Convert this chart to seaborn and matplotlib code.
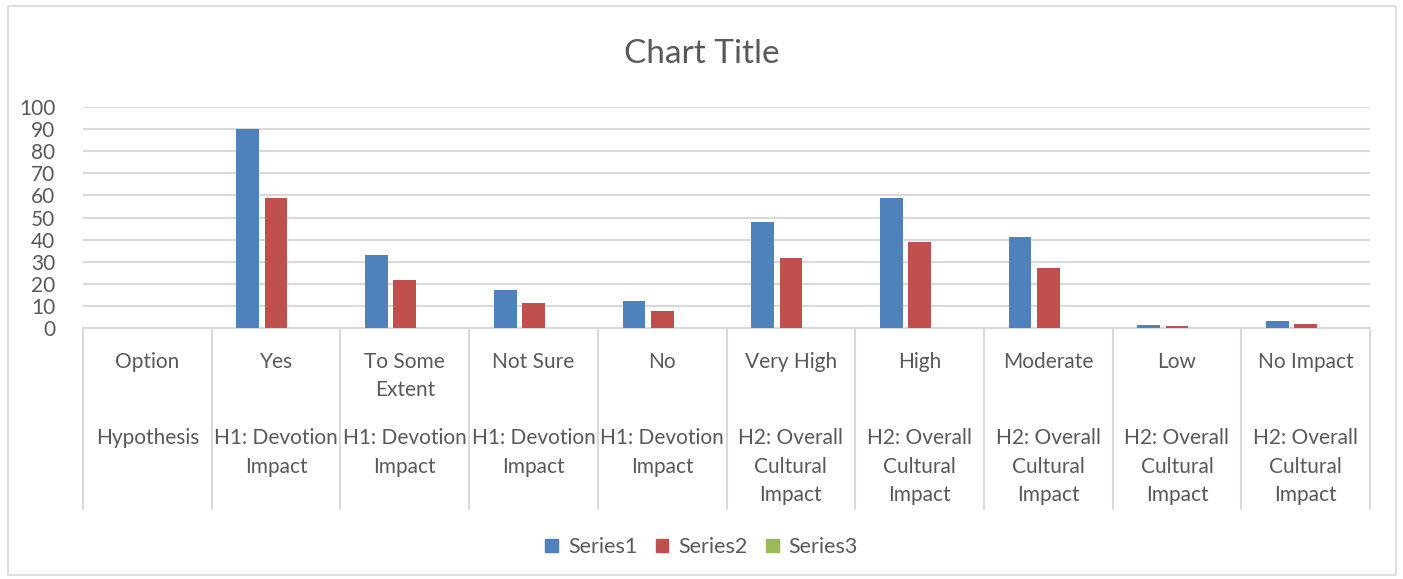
import matplotlib
matplotlib.use("Agg")
import matplotlib.pyplot as plt
import matplotlib.transforms as mtransforms
from matplotlib.patches import Rectangle, Patch
import seaborn as sns
import pandas as pd

options = ["Option", "Yes", "To Some\nExtent", "Not Sure", "No", "Very High", "High",
           "Moderate", "Low", "No Impact"]
hypotheses = ["Hypothesis", "H1: Devotion\nImpact", "H1: Devotion\nImpact", "H1: Devotion\nImpact",
              "H1: Devotion\nImpact", "H2: Overall\nCultural\nImpact", "H2: Overall\nCultural\nImpact",
              "H2: Overall\nCultural\nImpact", "H2: Overall\nCultural\nImpact", "H2: Overall\nCultural\nImpact"]
series1 = [0, 90, 33, 17, 12, 48, 59, 41, 1.2, 3]
series2 = [0, 59, 21.6, 11.3, 7.9, 31.5, 38.8, 27, 0.8, 2]
series3 = [0, 0, 0, 0, 0, 0, 0, 0, 0, 0]
series_names = ["Series1", "Series2", "Series3"]
colors = ["#4F81BD", "#C0504D", "#9BBB59"]

rows = []
for name, vals in zip(series_names, [series1, series2, series3]):
    for i, v in enumerate(vals):
        rows.append({"cat": i, "series": name, "value": v})
df = pd.DataFrame(rows)

sns.set_theme(style="white")
plt.rcParams['font.family'] = ['Lato', 'DejaVu Sans']
text_color = "#595959"
grid_color = "#D9D9D9"

fig = plt.figure(figsize=(14.03, 5.79), dpi=100)
fig.patch.set_facecolor("white")
fig.add_artist(Rectangle((0.006, 0.007), 0.989, 0.982, transform=fig.transFigure,
                         fill=False, edgecolor=grid_color, linewidth=1.2))
ax = fig.add_axes([0.0592, 0.4335, 0.9173, 0.3817])

sns.barplot(data=df, x="cat", y="value", hue="series", palette=colors, ax=ax,
            width=0.66, gap=0.2, legend=False, order=list(range(10)),
            saturation=1, zorder=3, linewidth=0)

ax.set_ylim(0, 100)
ax.set_xlim(-0.5, len(options) - 0.5)
ax.set_yticks(range(0, 101, 10))
ax.yaxis.grid(True, color=grid_color, linewidth=1.5)
ax.set_axisbelow(True)
for s in ["top", "right", "left"]:
    ax.spines[s].set_visible(False)
ax.spines["bottom"].set_color(grid_color)
ax.spines["bottom"].set_linewidth(1.5)
ax.spines["bottom"].set_zorder(1)
ax.tick_params(axis="y", labelsize=15, labelcolor=text_color, length=0, pad=20)
ax.set_xticks([])
ax.set_xlabel("")
ax.set_ylabel("")

trans = mtransforms.blended_transform_factory(ax.transData, ax.transAxes)
for b in range(len(options) + 1):
    ax.plot([b - 0.5, b - 0.5], [0, -0.82], transform=trans, color=grid_color,
            linewidth=1.5, clip_on=False)
for i, (o, h) in enumerate(zip(options, hypotheses)):
    ax.text(i, -0.107, o, transform=trans, ha="center", va="top", fontsize=15,
            color=text_color, linespacing=1.55)
    ax.text(i, -0.452, h, transform=trans, ha="center", va="top", fontsize=15,
            color=text_color, linespacing=1.55)

fig.text(0.5, 0.906, "Chart Title", ha="center", va="center", fontsize=24, color=text_color)

handles = [Patch(facecolor=c, edgecolor=c) for c in colors]
fig.legend(handles, series_names, loc="center", bbox_to_anchor=(0.5, 0.055), ncol=3,
           frameon=False, fontsize=15.5, handlelength=0.6, handleheight=0.6,
           handletextpad=0.45, columnspacing=0.85, labelcolor=text_color)

fig.savefig("out.png", dpi=100)
